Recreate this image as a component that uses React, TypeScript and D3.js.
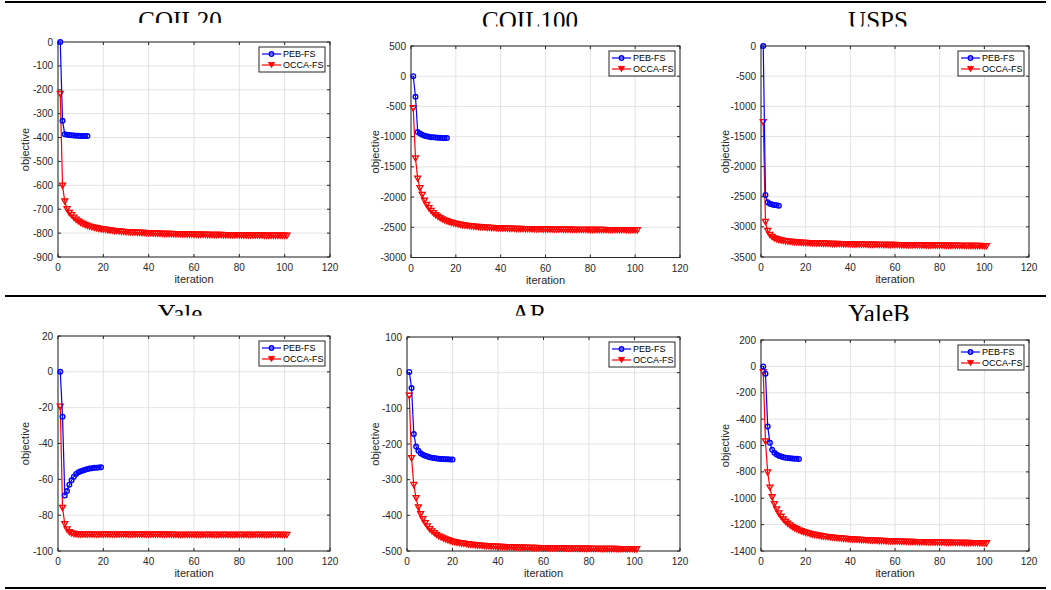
import * as d3 from 'd3'

// objective value per iteration (iteration = index + 1)
const coil20Peb = [0, -330, -386, -388, -389, -390, -391, -392, -392, -393, -393, -394, -394]
const coil20Occa = [
  -218, -602, -668, -700, -716, -725, -736, -744, -751, -757,
  -762, -766, -770, -773, -776, -778, -780, -782, -784, -785,
  -786, -788, -789, -790, -792, -792, -793, -794, -795, -796,
  -796, -797, -798, -798, -799, -799, -800, -800, -801, -801,
  -801, -802, -802, -803, -803, -803, -804, -804, -804, -804,
  -805, -805, -805, -805, -806, -806, -806, -806, -806, -807,
  -807, -807, -807, -807, -807, -808, -808, -808, -808, -808,
  -808, -808, -809, -809, -809, -809, -809, -809, -809, -809,
  -810, -810, -810, -810, -810, -810, -810, -810, -810, -810,
  -811, -811, -811, -811, -811, -811, -811, -811, -811, -811,
  -811,
]

const coil100Peb = [0, -340, -925, -950, -970, -985, -995, -1002, -1008, -1012, -1015, -1018, -1020, -1021, -1022, -1023]
const coil100Occa = [
  -530, -1360, -1695, -1855, -1965, -2060, -2130, -2185, -2230, -2268,
  -2300, -2327, -2350, -2370, -2387, -2402, -2415, -2426, -2436, -2445,
  -2453, -2460, -2466, -2472, -2477, -2482, -2486, -2490, -2494, -2497,
  -2500, -2503, -2506, -2508, -2510, -2512, -2514, -2516, -2518, -2519,
  -2521, -2522, -2523, -2525, -2526, -2527, -2528, -2529, -2530, -2531,
  -2532, -2532, -2533, -2534, -2534, -2535, -2536, -2536, -2537, -2537,
  -2538, -2538, -2539, -2539, -2540, -2540, -2540, -2541, -2541, -2542,
  -2542, -2542, -2543, -2543, -2543, -2544, -2544, -2544, -2545, -2545,
  -2545, -2545, -2546, -2546, -2546, -2546, -2547, -2547, -2547, -2547,
  -2548, -2548, -2548, -2548, -2548, -2549, -2549, -2549, -2549, -2549,
  -2550,
]

const uspsPeb = [0, -2470, -2590, -2615, -2628, -2637, -2643, -2648]
const uspsOcca = [
  -1265, -2920, -3070, -3135, -3170, -3192, -3207, -3218, -3227, -3234,
  -3240, -3245, -3249, -3253, -3256, -3259, -3262, -3264, -3266, -3268,
  -3270, -3272, -3273, -3275, -3276, -3278, -3279, -3280, -3281, -3282,
  -3283, -3284, -3285, -3286, -3287, -3288, -3289, -3290, -3290, -3291,
  -3292, -3293, -3293, -3294, -3295, -3295, -3296, -3297, -3297, -3298,
  -3298, -3299, -3300, -3300, -3301, -3301, -3302, -3302, -3303, -3303,
  -3304, -3304, -3305, -3305, -3306, -3306, -3307, -3307, -3307, -3308,
  -3308, -3309, -3309, -3310, -3310, -3310, -3311, -3311, -3312, -3312,
  -3312, -3313, -3313, -3314, -3314, -3314, -3315, -3315, -3316, -3316,
  -3316, -3317, -3317, -3318, -3318, -3318, -3319, -3319, -3320, -3320,
  -3320,
]

const yalePeb = [0, -25, -69, -66.5, -63, -60.5, -58.5, -57, -56, -55.5, -55, -54.6, -54.3, -54, -53.8, -53.6, -53.5, -53.4, -53.3]
const yaleOcca = [
  -19.5, -76, -85, -88, -89.5, -90.2, -90.5, -90.7, -90.8, -90.8,
  -90.9, -90.9, -90.9, -90.9, -90.9, -90.9, -90.9, -90.9, -90.9, -90.9,
  -90.9, -90.9, -90.9, -90.9, -90.9, -90.9, -90.9, -90.9, -90.9, -90.9,
  -90.9, -90.9, -90.9, -90.9, -90.9, -90.9, -90.9, -90.9, -90.9, -90.9,
  -90.9, -90.9, -90.9, -90.9, -90.9, -90.9, -90.9, -90.9, -90.9, -90.9,
  -91, -91, -91, -91, -91, -91, -91, -91, -91, -91,
  -91, -91, -91, -91, -91, -91, -91, -91, -91, -91,
  -91, -91, -91, -91, -91, -91, -91, -91, -91, -91,
  -91, -91, -91, -91, -91, -91, -91, -91, -91, -91,
  -91, -91, -91, -91, -91, -91, -91, -91, -91, -91,
  -91,
]

const arPeb = [2, -43, -172, -207, -219, -226, -230, -233, -235, -237, -238.5, -239.5, -240.5, -241.2, -241.8, -242.3, -242.7, -243, -243.3, -243.6]
const arOcca = [
  -65, -240, -315, -352, -378, -397, -411, -422, -431, -439,
  -445, -450, -455, -459, -462, -465, -468, -470, -472, -474,
  -475.5, -477, -478, -479, -480, -481, -482, -482.7, -483.4, -484,
  -484.6, -485.2, -485.7, -486.2, -486.6, -487, -487.4, -487.8, -488.1, -488.4,
  -488.7, -489, -489.3, -489.5, -489.8, -490, -490.2, -490.4, -490.6, -490.8,
  -491, -491.2, -491.3, -491.5, -491.6, -491.8, -491.9, -492, -492.2, -492.3,
  -492.4, -492.5, -492.6, -492.7, -492.8, -492.9, -493, -493.1, -493.2, -493.3,
  -493.4, -493.5, -493.5, -493.6, -493.7, -493.8, -493.8, -493.9, -494, -494,
  -494.1, -494.2, -494.2, -494.3, -494.3, -494.4, -494.5, -494.5, -494.6, -494.6,
  -494.7, -494.7, -494.8, -494.8, -494.9, -494.9, -495, -495, -495, -495.1,
  -495.1,
]

const yaleBPeb = [0, -55, -455, -580, -632, -655, -668, -677, -684, -689, -692, -695, -697, -699, -700, -701, -702]
const yaleBOcca = [
  -45, -570, -805, -920, -993, -1045, -1085, -1116, -1141, -1162,
  -1179, -1194, -1207, -1218, -1228, -1236, -1244, -1251, -1257, -1262,
  -1267, -1271, -1275, -1279, -1282, -1285, -1288, -1291, -1293, -1295,
  -1297, -1299, -1301, -1303, -1305, -1306, -1308, -1309, -1311, -1312,
  -1313, -1314, -1315, -1316, -1317, -1318, -1319, -1320, -1321, -1322,
  -1322, -1323, -1324, -1325, -1325, -1326, -1327, -1327, -1328, -1328,
  -1329, -1329, -1330, -1330, -1331, -1331, -1332, -1332, -1333, -1333,
  -1334, -1334, -1334, -1335, -1335, -1335, -1336, -1336, -1336, -1337,
  -1337, -1337, -1338, -1338, -1338, -1339, -1339, -1339, -1339, -1340,
  -1340, -1340, -1340, -1341, -1341, -1341, -1341, -1342, -1342, -1342,
  -1342,
]

const seriesNames = ['PEB-FS', 'OCCA-FS']
const xDomain = [0, 120]

const panels = [
  { title: 'COIL20', titleX: 180, titleY: 28.5, clipY: 23, left: 58, top: 42, right: 330, bottom: 257, yDomain: [-900, 0], yTickCount: 10, labelDx: 33, peb: coil20Peb, occa: coil20Occa },
  { title: 'COIL100', titleX: 530, titleY: 28.5, clipY: 26.5, left: 411, top: 46, right: 680, bottom: 257.5, yDomain: [-3000, 500], yTickCount: 7, labelDx: 36, peb: coil100Peb, occa: coil100Occa },
  { title: 'USPS', titleX: 878, titleY: 28.5, clipY: 26.5, left: 761, top: 46, right: 1029, bottom: 257, yDomain: [-3500, 0], yTickCount: 7, labelDx: 36, peb: uspsPeb, occa: uspsOcca },
  { title: 'Yale', titleX: 180, titleY: 321.5, clipY: 315.5, left: 58, top: 336, right: 330, bottom: 551, yDomain: [-100, 20], yTickCount: 6, labelDx: 33, peb: yalePeb, occa: yaleOcca },
  { title: 'AR', titleX: 529, titleY: 321.5, clipY: 315.5, left: 407, top: 337, right: 680, bottom: 551, yDomain: [-500, 100], yTickCount: 6, labelDx: 32, peb: arPeb, occa: arOcca },
  { title: 'YaleB', titleX: 879, titleY: 321.5, clipY: 321, left: 761, top: 340, right: 1029, bottom: 551, yDomain: [-1400, 200], yTickCount: 8, labelDx: 36, peb: yaleBPeb, occa: yaleBOcca },
]

const AXIS = '#262626'
const GRID = '#e3e3e3'
const BLUE = '#0000ff'
const RED = '#ff0000'
const SANS = 'Liberation Sans, Arial, Helvetica, sans-serif'
const TRI = 'M-3,-2.6L3,-2.6L0,2.6Z'

function Panel({ p, idx }: { p: any; idx: number }) {
  const x = d3.scaleLinear().domain(xDomain).range([p.left, p.right])
  const y = d3.scaleLinear().domain(p.yDomain).range([p.bottom, p.top])
  const xTicks = x.ticks(6)
  const yTicks = y.ticks(p.yTickCount)
  const line = d3.line<number>().x((_, i) => x(i + 1)).y(d => y(d))
  const tl = 3
  const lgW = 66
  const lgH = 25
  const lgX = p.right - 5 - lgW
  const lgY = p.top + 5
  const clipId = `title-clip-${idx}`

  return (
    <g>
      <defs>
        <clipPath id={clipId}>
          <rect x={p.titleX - 80} y={p.clipY - 40} width={160} height={40} />
        </clipPath>
      </defs>
      <text x={p.titleX} y={p.titleY} textAnchor="middle" fontFamily="Liberation Serif, Times New Roman, serif" fontSize={25} fill="#000" clipPath={`url(#${clipId})`}>
        {p.title}
      </text>

      <rect x={p.left} y={p.top} width={p.right - p.left} height={p.bottom - p.top} fill="#fff" />
      {xTicks.map(t => (
        <line key={`gx${t}`} x1={x(t)} x2={x(t)} y1={p.top} y2={p.bottom} stroke={GRID} strokeWidth={1} />
      ))}
      {yTicks.map(t => (
        <line key={`gy${t}`} x1={p.left} x2={p.right} y1={y(t)} y2={y(t)} stroke={GRID} strokeWidth={1} />
      ))}

      <rect x={p.left} y={p.top} width={p.right - p.left} height={p.bottom - p.top} fill="none" stroke={AXIS} strokeWidth={1} />
      {xTicks.map(t => (
        <g key={`tx${t}`}>
          <line x1={x(t)} x2={x(t)} y1={p.bottom} y2={p.bottom - tl} stroke={AXIS} />
          <line x1={x(t)} x2={x(t)} y1={p.top} y2={p.top + tl} stroke={AXIS} />
          <text x={x(t)} y={p.bottom + 14} textAnchor="middle" fontFamily={SANS} fontSize={10} fill={AXIS}>{t}</text>
        </g>
      ))}
      {yTicks.map(t => (
        <g key={`ty${t}`}>
          <line x1={p.left} x2={p.left + tl} y1={y(t)} y2={y(t)} stroke={AXIS} />
          <line x1={p.right} x2={p.right - tl} y1={y(t)} y2={y(t)} stroke={AXIS} />
          <text x={p.left - 5} y={y(t)} dy="0.35em" textAnchor="end" fontFamily={SANS} fontSize={10} fill={AXIS}>{String(t)}</text>
        </g>
      ))}
      <text x={(p.left + p.right) / 2} y={p.bottom + 26} textAnchor="middle" fontFamily={SANS} fontSize={11} fill={AXIS}>iteration</text>
      <text transform={`translate(${p.left - p.labelDx},${(p.top + p.bottom) / 2}) rotate(-90)`} dy="0.35em" textAnchor="middle" fontFamily={SANS} fontSize={11} fill={AXIS}>objective</text>

      <path d={line(p.occa) || ''} fill="none" stroke={RED} strokeWidth={1.2} />
      {p.occa.map((v: number, i: number) => (
        <path key={`o${i}`} d={TRI} transform={`translate(${x(i + 1)},${y(v)})`} fill="none" stroke={RED} strokeWidth={1.3} />
      ))}
      <path d={line(p.peb) || ''} fill="none" stroke={BLUE} strokeWidth={1.2} />
      {p.peb.map((v: number, i: number) => (
        <circle key={`p${i}`} cx={x(i + 1)} cy={y(v)} r={2.3} fill="none" stroke={BLUE} strokeWidth={1.4} />
      ))}

      <rect x={lgX} y={lgY} width={lgW} height={lgH} fill="#fff" stroke={AXIS} strokeWidth={1} />
      {seriesNames.map((name, i) => {
        const ly = lgY + 7 + i * 11
        const col = i === 0 ? BLUE : RED
        return (
          <g key={name}>
            <line x1={lgX + 3} x2={lgX + 22} y1={ly} y2={ly} stroke={col} strokeWidth={1.2} />
            {i === 0 ? (
              <circle cx={lgX + 12.5} cy={ly} r={2.2} fill="none" stroke={col} strokeWidth={1.4} />
            ) : (
              <path d={TRI} transform={`translate(${lgX + 12.5},${ly})`} fill={col} stroke={col} strokeWidth={0.9} />
            )}
            <text x={lgX + 24} y={ly} dy="0.35em" fontFamily={SANS} fontSize={9} fill="#000">{name}</text>
          </g>
        )
      })}
    </g>
  )
}

export default function App() {
  return (
    <svg width={1051} height={590} style={{ position: 'absolute', left: 0, top: 0, background: '#fff' }}>
      <rect x={0} y={0} width={1051} height={590} fill="#fff" />
      {panels.map((p, i) => (
        <Panel key={p.title} p={p} idx={i} />
      ))}
      <line x1={5} x2={1046} y1={2} y2={2} stroke="#000" strokeWidth={2} />
      <line x1={5} x2={1046} y1={296} y2={296} stroke="#000" strokeWidth={2} />
      <line x1={5} x2={1046} y1={588} y2={588} stroke="#000" strokeWidth={2} />
    </svg>
  )
}
